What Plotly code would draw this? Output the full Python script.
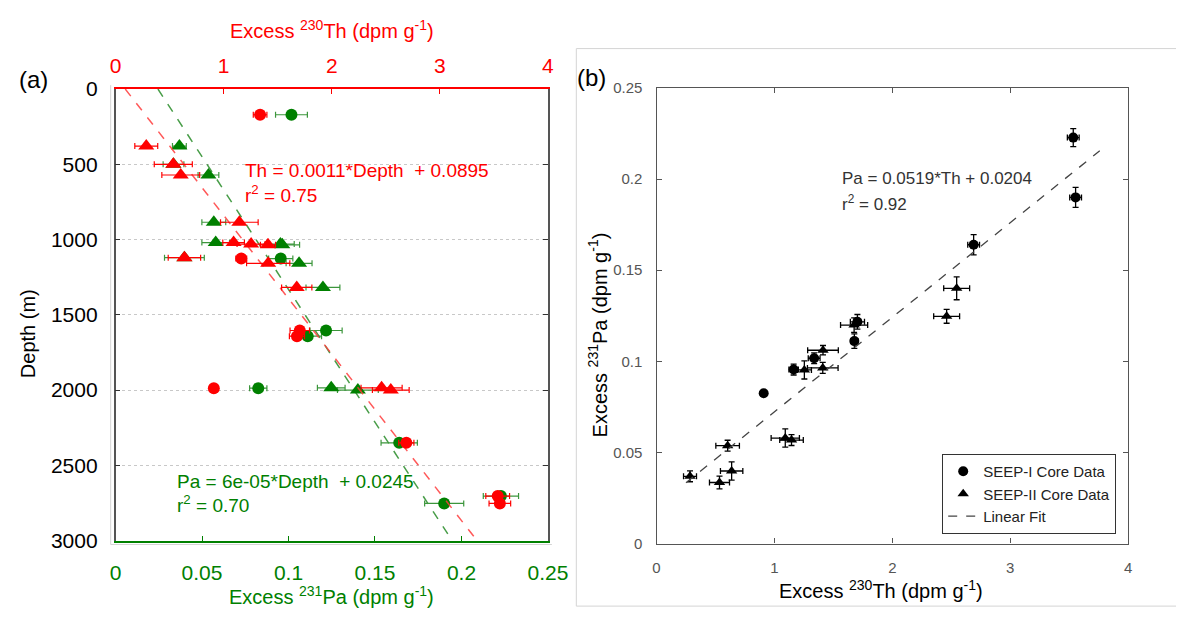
import plotly.graph_objects as go

W, H = 1196, 620

# ---------------- data ----------------
# SEEP-I core data (circles)
depth_I = [171, 1126, 1604, 1642, 1987, 2350, 2704, 2753]
th_I = [1.337, 1.163, 1.704, 1.678, 0.909, 2.690, 3.535, 3.555]
pa_I = [0.1017, 0.0955, 0.1217, 0.1111, 0.0825, 0.1640, 0.2228, 0.1900]
th_err_a_I = [0.063, 0.05, 0.09, 0.07, 0.0, 0.07, 0.11, 0.10]
pa_err_a_I = [0.0092, 0.007, 0.0093, 0.008, 0.005, 0.0105, 0.0102, 0.0113]
th_err_b_I = [0.05, 0.04, 0.06, 0.03, 0.0, 0.05, 0.05, 0.05]
pa_err_b_I = [0.003, 0.003, 0.004, 0.004, 0.0, 0.0056, 0.0049, 0.0055]

# SEEP-II core data (triangles)
depth_II = [379, 500, 571, 885, 1020, 1030, 1035, 1120, 1158, 1318, 1985, 2000]
th_II = [0.284, 0.534, 0.603, 1.145, 1.092, 1.254, 1.410, 0.637, 1.412, 1.676, 2.461, 2.546]
pa_II = [0.0369, 0.0335, 0.0537, 0.0568, 0.0579, 0.0953, 0.0964, 0.0398, 0.1061, 0.1199, 0.1247, 0.1401]
th_err_a_II = [0.106, 0.176, 0.175, 0.174, 0.10, 0.13, 0.07, 0.15, 0.20, 0.14, 0.19, 0.17]
pa_err_a_II = [0.004, 0.006, 0.006, 0.0069, 0.008, 0.008, 0.010, 0.0115, 0.0075, 0.0098, 0.008, 0.0118]
th_err_b_II = [0.055, 0.085, 0.10, 0.10, 0.12, 0.06, 0.13, 0.095, 0.13, 0.115, 0.11, 0.11]
pa_err_b_II = [0.003, 0.0035, 0.003, 0.003, 0.005, 0.005, 0.003, 0.005, 0.0026, 0.004, 0.0038, 0.0063]

# linear fits
fit_depths = [0, 3000]
th_depth_slope, th_depth_int = 0.001085, 0.0895
pa_depth_slope, pa_depth_int = 5.67e-5, 0.0245
fit_th = [0.25, 3.76]
pa_th_slope, pa_th_int = 0.0519, 0.0204

# ticks
depth_ticks = [0, 500, 1000, 1500, 2000, 2500, 3000]
pa_ticks_a = [0, 0.05, 0.1, 0.15, 0.2, 0.25]
pa_ticktext_a = ["0", "0.05", "0.1", "0.15", "0.2", "0.25"]
th_ticks = [0, 1, 2, 3, 4]
pa_ticks_b = [0, 0.05, 0.1, 0.15, 0.2, 0.25]
pa_ticktext_b = ["0", "0.05", "0.1", "0.15", "0.2", "0.25"]

RED = "#ff0000"
GREEN = "#008000"
GREEN_BAR = "#3c963c"
FONT = "Liberation Sans, Arial, Helvetica, sans-serif"


def px(x):
    return x / W


def py(y):
    return 1 - y / H


fig = go.Figure()

# ---------- panel (a) ----------
fig.add_trace(go.Scatter(
    x=[th_depth_int + th_depth_slope * d for d in fit_depths], y=fit_depths,
    mode="lines", line=dict(color="rgba(255,60,60,0.85)", width=1.5, dash="dash"),
    xaxis="x3", yaxis="y", showlegend=False, hoverinfo="skip"))
fig.add_trace(go.Scatter(
    x=[pa_depth_int + pa_depth_slope * d for d in fit_depths], y=fit_depths,
    mode="lines", line=dict(color="rgba(40,140,40,0.85)", width=1.5, dash="dash"),
    xaxis="x", yaxis="y", showlegend=False, hoverinfo="skip"))

fig.add_trace(go.Scatter(
    x=th_I, y=depth_I, mode="markers", xaxis="x3", yaxis="y", showlegend=False,
    marker=dict(symbol="circle", size=12, color=RED),
    error_x=dict(type="data", array=th_err_a_I, color=RED, thickness=1.2, width=3)))
fig.add_trace(go.Scatter(
    x=th_II, y=depth_II, mode="markers", xaxis="x3", yaxis="y", showlegend=False,
    marker=dict(symbol="triangle-up", size=14, color=RED),
    error_x=dict(type="data", array=th_err_a_II, color=RED, thickness=1.2, width=3)))
fig.add_trace(go.Scatter(
    x=pa_I, y=depth_I, mode="markers", xaxis="x", yaxis="y", showlegend=False,
    marker=dict(symbol="circle", size=12, color=GREEN),
    error_x=dict(type="data", array=pa_err_a_I, color=GREEN_BAR, thickness=1.2, width=3)))
fig.add_trace(go.Scatter(
    x=pa_II, y=depth_II, mode="markers", xaxis="x", yaxis="y", showlegend=False,
    marker=dict(symbol="triangle-up", size=14, color=GREEN),
    error_x=dict(type="data", array=pa_err_a_II, color=GREEN_BAR, thickness=1.2, width=3)))

# ---------- panel (b) ----------
fig.add_trace(go.Scatter(
    x=th_I, y=pa_I, mode="markers", xaxis="x2", yaxis="y2", name="SEEP-I Core Data",
    marker=dict(symbol="circle", size=10, color="black"),
    error_x=dict(type="data", array=th_err_b_I, color="black", thickness=1.3, width=3),
    error_y=dict(type="data", array=pa_err_b_I, color="black", thickness=1.3, width=3)))
fig.add_trace(go.Scatter(
    x=th_II, y=pa_II, mode="markers", xaxis="x2", yaxis="y2", name="SEEP-II Core Data",
    marker=dict(symbol="triangle-up", size=10, color="black"),
    error_x=dict(type="data", array=th_err_b_II, color="black", thickness=1.3, width=3),
    error_y=dict(type="data", array=pa_err_b_II, color="black", thickness=1.3, width=3)))
fig.add_trace(go.Scatter(
    x=fit_th, y=[pa_th_int + pa_th_slope * t for t in fit_th], mode="lines",
    xaxis="x2", yaxis="y2", name="Linear Fit",
    line=dict(color="#444444", width=1.3, dash="dash")))

dom_ax = [px(112), px(554)]
dom_ay = [py(549), py(80)]
dom_bx = [px(665), px(1147)]
dom_by = [py(552), py(79)]

fig.update_layout(
    width=W, height=H, margin=dict(l=0, r=0, t=0, b=0),
    paper_bgcolor="white", plot_bgcolor="white",
    font=dict(family=FONT, color="black"),
    xaxis=dict(domain=dom_ax, anchor="y", side="bottom", range=[0, 0.25],
               showline=True, linecolor=GREEN, linewidth=1.5, mirror=False,
               ticks="inside", ticklen=5, tickcolor=GREEN,
               tickvals=pa_ticks_a, ticktext=pa_ticktext_a,
               tickfont=dict(size=21, color=GREEN), ticklabelstandoff=12,
               showgrid=False, zeroline=False),
    xaxis3=dict(overlaying="x", anchor="y", side="top", range=[0, 4],
                showline=True, linecolor=RED, linewidth=1.5,
                ticks="inside", ticklen=5, tickcolor=RED,
                tickvals=th_ticks, tickfont=dict(size=21, color=RED),
                ticklabelstandoff=6, showgrid=False, zeroline=False),
    yaxis=dict(domain=dom_ay, anchor="x", range=[3000, 0],
               showline=True, linecolor="#555555", linewidth=1.5, mirror="ticks",
               ticks="inside", ticklen=5, tickcolor="#333333",
               tickvals=depth_ticks, tickfont=dict(size=21, color="black"),
               ticklabelstandoff=12,
               showgrid=True, gridcolor="#c8c8c8", griddash="dot", gridwidth=1,
               zeroline=False),
    xaxis2=dict(domain=dom_bx, anchor="y2", range=[0, 4],
                showline=True, linecolor="#555555", linewidth=1.3, mirror="ticks",
                ticks="inside", ticklen=5, tickcolor="#555555",
                tickvals=th_ticks, tickfont=dict(size=15, color="#555555"),
                ticklabelstandoff=10, showgrid=False, zeroline=False),
    yaxis2=dict(domain=dom_by, anchor="x2", range=[0, 0.25],
                showline=True, linecolor="#555555", linewidth=1.3, mirror="ticks",
                ticks="inside", ticklen=5, tickcolor="#555555",
                tickvals=pa_ticks_b, ticktext=pa_ticktext_b,
                tickfont=dict(size=15, color="#555555"),
                ticklabelstandoff=10, showgrid=False, zeroline=False),
    legend=dict(x=px(957), y=py(459), xanchor="left", yanchor="top",
                bgcolor="white", bordercolor="#333333", borderwidth=1,
                font=dict(size=15, color="#222222"), tracegroupgap=0,
                itemwidth=30),
)

annos = [
    dict(text="Excess <sup>230</sup>Th (dpm g<sup>-1</sup>)", x=px(333), y=py(18),
         font=dict(size=20, color=RED)),
    dict(text="Excess <sup>231</sup>Pa (dpm g<sup>-1</sup>)", x=px(333), y=py(606),
         font=dict(size=20, color=GREEN)),
    dict(text="Depth (m)", x=px(22), y=py(334), textangle=-90,
         font=dict(size=20, color="black")),
    dict(text="Excess <sup>230</sup>Th (dpm g<sup>-1</sup>)", x=px(894), y=py(600),
         font=dict(size=20, color="black")),
    dict(text="Excess <sup>231</sup>Pa (dpm g<sup>-1</sup>)", x=px(605), y=py(335),
         textangle=-90, font=dict(size=20, color="black")),
    dict(text="(a)", x=px(28), y=py(70), font=dict(size=24, color="black")),
    dict(text="(b)", x=px(599), y=py(68), font=dict(size=24, color="black")),
    dict(text="Th = 0.0011*Depth&nbsp; + 0.0895", x=px(242), y=py(165), xanchor="left",
         font=dict(size=19, color=RED)),
    dict(text="r<sup>2</sup> = 0.75", x=px(242), y=py(189), xanchor="left",
         font=dict(size=19, color=RED)),
    dict(text="Pa = 6e-05*Depth&nbsp; + 0.0245", x=px(173), y=py(488), xanchor="left",
         font=dict(size=19, color=GREEN)),
    dict(text="r<sup>2</sup> = 0.70", x=px(173), y=py(511), xanchor="left",
         font=dict(size=19, color=GREEN)),
    dict(text="Pa = 0.0519*Th + 0.0204", x=px(853), y=py(173), xanchor="left",
         font=dict(size=17, color="#333333")),
    dict(text="r<sup>2</sup> = 0.92", x=px(853), y=py(198), xanchor="left",
         font=dict(size=17, color="#333333")),
]
for a in annos:
    a.setdefault("xanchor", "center")
    a.update(xref="paper", yref="paper", showarrow=False, yanchor="middle")
    fig.add_annotation(**a)

# faint frames around the two sub-figures
frame = dict(type="line", xref="paper", yref="paper", line=dict(color="#d4d4d4", width=1))
fig.add_shape(**frame, x0=px(107), x1=px(107), y0=py(76), y1=py(553))
fig.add_shape(**frame, x0=px(107), x1=px(558), y0=py(553), y1=py(553))
fig.add_shape(**frame, x0=px(583), x1=px(583), y0=py(38), y1=py(617))
fig.add_shape(**frame, x0=px(583), x1=1, y0=py(38), y1=py(38))
fig.add_shape(**frame, x0=px(583), x1=1, y0=py(617), y1=py(617))

fig.write_html("out.html")
